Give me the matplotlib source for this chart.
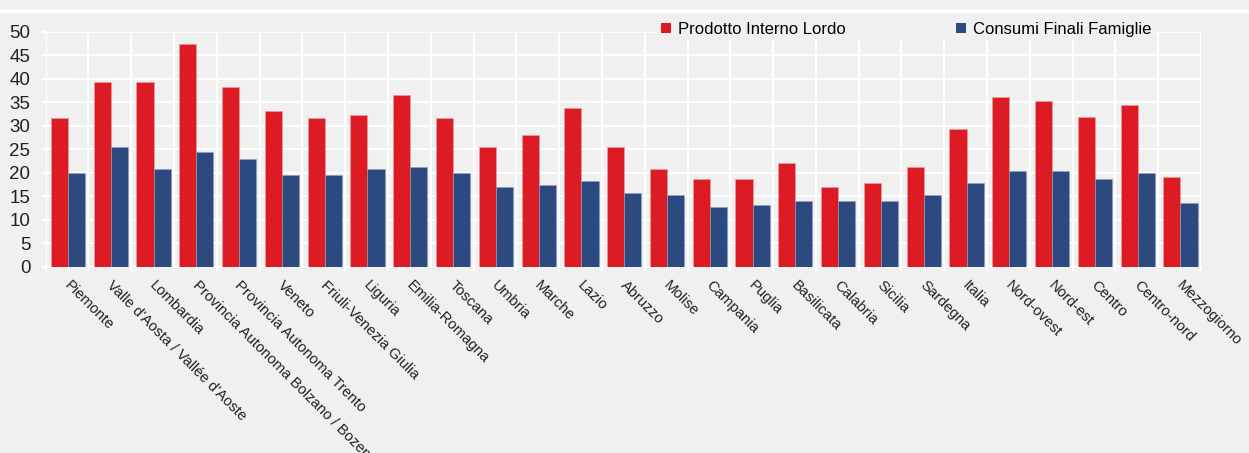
"""Bar chart: PIL e consumi finali famiglie per regione."""

import matplotlib
matplotlib.use("Agg")
import matplotlib.pyplot as plt
import matplotlib.transforms as mtransforms
from matplotlib.patches import Patch
from matplotlib.lines import Line2D
import numpy as np

# ── Data ──────────────────────────────────────────────────────────────
regioni = [
    "Piemonte", "Valle d'Aosta / Vallée d'Aoste", "Lombardia",
    "Provincia Autonoma Bolzano / Bozen", "Provincia Autonoma Trento",
    "Veneto", "Friuli-Venezia Giulia", "Liguria", "Emilia-Romagna",
    "Toscana", "Umbria", "Marche", "Lazio", "Abruzzo", "Molise",
    "Campania", "Puglia", "Basilicata", "Calabria", "Sicilia", "Sardegna",
    "Italia", "Nord-ovest", "Nord-est", "Centro", "Centro-nord",
    "Mezzogiorno",
]
pil = [31.6, 39.2, 39.2, 47.4, 38.3, 33.2, 31.6, 32.3, 36.6, 31.6, 25.5,
       28.1, 33.7, 25.5, 20.8, 18.7, 18.7, 22.1, 17.0, 17.8, 21.3, 29.4,
       36.2, 35.3, 31.9, 34.5, 19.1]
consumi = [20.0, 25.5, 20.8, 24.3, 23.0, 19.6, 19.6, 20.8, 21.3, 20.0, 17.0,
           17.4, 18.2, 15.7, 15.3, 12.6, 13.1, 14.0, 14.0, 14.0, 15.3, 17.8,
           20.4, 20.4, 18.7, 19.9, 13.6]
series_labels = ["Prodotto Interno Lordo", "Consumi Finali Famiglie"]
yticks = list(range(0, 55, 5))

# ── Style ─────────────────────────────────────────────────────────────
BG = "#f0f0f0"
RED = "#dc1b24"
BLUE = "#2c4a7f"
plt.rcParams["font.family"] = ["Liberation Sans", "DejaVu Sans"]

fig = plt.figure(figsize=(12.49, 4.53), dpi=100, facecolor=BG)
ax = fig.add_axes([45.7 / 1249, 1 - 266.7 / 453, (1201 - 45.7) / 1249,
                   (266.7 - 31.7) / 453])
ax.set_facecolor(BG)

x = np.arange(len(regioni))
w = 0.4
ax.bar(x - w / 2 + 0.02, pil, width=w, color=RED, edgecolor="#e8a0a4",
       linewidth=0.4, zorder=3)
ax.bar(x + w / 2 + 0.02, consumi, width=w, color=BLUE, edgecolor="#8fa0c0",
       linewidth=0.4, zorder=3)

ax.set_xlim(-0.5, len(regioni) - 0.5)
ax.set_ylim(0, 50)

# Grid lines (white) on category boundaries and every 5 units
ax.set_yticks(yticks)
ax.set_yticklabels([str(v) for v in yticks], fontsize=13.5, color="#222222")
ax.set_xticks(np.arange(len(regioni) + 1) - 0.5, minor=True)
ax.grid(which="minor", axis="x", color="white", linewidth=1.5, zorder=1)
ax.grid(which="major", axis="y", color="white", linewidth=1.5, zorder=1)
ax.tick_params(axis="y", which="major", length=3, width=1.5, color="white",
               pad=8)
ax.tick_params(axis="x", which="minor", length=3, width=1.5, color="white")
ax.tick_params(axis="x", which="major", length=0, pad=8)
for spine in ax.spines.values():
    spine.set_visible(False)

ax.set_xticks(x)
ax.set_xticklabels(regioni, rotation=-45, ha="left", va="top",
                   rotation_mode="anchor", fontsize=10.7, color="#222222")
shift = mtransforms.ScaledTranslation(4 / 100, 0, fig.dpi_scale_trans)
for lab in ax.get_xticklabels():
    lab.set_transform(lab.get_transform() + shift)

# Legend across the top of the plot
handles = [Patch(facecolor=RED, edgecolor="none"),
           Patch(facecolor=BLUE, edgecolor="none")]
leg = fig.legend(handles, series_labels, loc="center left",
                 bbox_to_anchor=(649 / 1249, 1 - 29.5 / 453), ncol=2,
                 fontsize=12, frameon=True, facecolor=BG, edgecolor=BG,
                 framealpha=1, fancybox=False, borderpad=0.2,
                 handlelength=0.6, handleheight=0.6, handletextpad=0.45,
                 columnspacing=6.6)
leg.get_frame().set_linewidth(0)
leg.set_zorder(10)

# White rule across the top of the figure
fig.add_artist(Line2D([0, 1], [1 - 10.5 / 453] * 2, color="white",
                      linewidth=2.5, transform=fig.transFigure))

fig.savefig("out.png", dpi=100, facecolor=BG)
